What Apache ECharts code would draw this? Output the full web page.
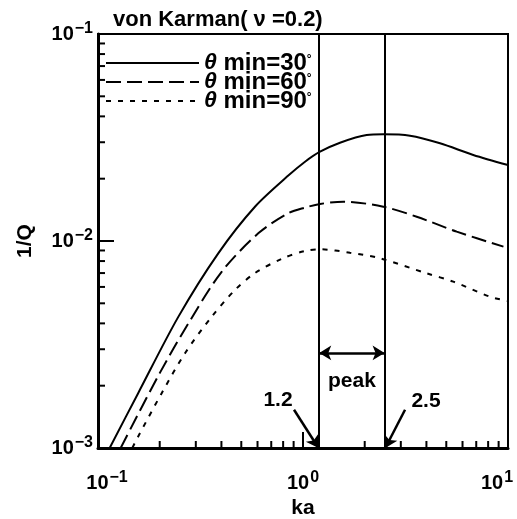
<!DOCTYPE html>
<html lang="en">
<head>
<meta charset="utf-8">
<title>von Karman 1/Q</title>
<script src="https://cdn.jsdelivr.net/npm/echarts@6/dist/echarts.min.js"></script>
<style>
  html, body { margin: 0; padding: 0; background: #fff; }
  #main { width: 517px; height: 519px; }
</style>
</head>
<body>
<div id="main"></div>
<script type="text/javascript">
// curve data (ka, 1/Q)
const ka30 = [0.1140, 0.157, 0.2464, 0.386, 0.583, 0.848, 1.023, 1.211, 1.515, 2.045, 2.465, 3.327, 4.66, 6.77, 10];
const q30  = [0.00100, 0.00184, 0.0043, 0.00872, 0.01464, 0.0207, 0.02415, 0.02700, 0.02985, 0.03251, 0.03277, 0.03226, 0.02964, 0.02603, 0.02328];

const ka60 = [0.129, 0.200, 0.276, 0.401, 0.605, 0.848, 1.023, 1.211, 1.573, 2.465, 3.586, 5.62, 9.5];
const q60  = [0.00100, 0.00230, 0.0040, 0.0071, 0.01089, 0.01362, 0.0145, 0.0151, 0.01549, 0.01465, 0.0131, 0.0111, 0.00939];

const ka90 = [0.147, 0.1573, 0.2045, 0.2657, 0.3586, 0.4659, 0.583, 0.787, 1.023, 1.211, 1.695, 2.375, 4.01, 5.41, 8.17, 10];
const q90  = [0.00100, 0.00114, 0.00184, 0.00287, 0.00431, 0.0058, 0.0070, 0.0082, 0.00895, 0.00912, 0.00878, 0.00825, 0.00698, 0.00636, 0.00538, 0.00513];

const seriesNames = ['30', '60', '90'];   // theta min values
const peakBounds = [1.2, 2.5];            // vertical lines
const peakArrowY = 0.00288;
const arrow12 = [[0.904, 0.00153], [1.19, 0.00100]];
const arrow25 = [[3.146, 0.00153], [2.52, 0.00100]];
const label12 = [0.755, 0.00171];
const label25 = [3.98, 0.00169];

// axis labels (exponents)
const xTickExps = ['−1', '0', '1'];
const yTickExps = ['−3', '−2', '−1'];
const xMinorTicks = [0.2, 0.3, 0.4, 0.5, 0.6, 0.7, 0.8, 0.9, 2, 3, 4, 5, 6, 7, 8, 9];
const yMinorTicks = [0.002, 0.003, 0.004, 0.005, 0.006, 0.007, 0.008, 0.009, 0.02, 0.03, 0.04, 0.05, 0.06, 0.07, 0.08, 0.09];

const FONT = 'Liberation Sans';

function pairs(xs, ys) {
    return xs.map((x, i) => [x, ys[i]]);
}

let tickData = [];
xMinorTicks.forEach((v) => { tickData.push([v, 0.001, 0]); });
yMinorTicks.forEach((v) => { tickData.push([0.1, v, 1]); });

let chart = echarts.init(document.getElementById('main'));

let expRich = {
    b: { fontFamily: FONT, fontWeight: 'bold', fontSize: 20, color: '#000' },
    s: { fontFamily: FONT, fontWeight: 'bold', fontSize: 16, color: '#000', verticalAlign: 'top', padding: [0, 0, 10, 1] },
    padL: { width: 18 },
    padR: { width: 22 }
};

let labelFont = { fontFamily: FONT, fontWeight: 'bold', fontSize: 21, color: '#000' };
let arrowLine = { color: '#000', width: 2.5, type: 'solid' };

let option = {
    backgroundColor: '#fff',
    animation: false,
    title: {
        text: 'von Karman( ν =0.2)',
        left: 108,
        top: 4,
        textStyle: { fontFamily: FONT, fontWeight: 'bold', fontSize: 22, color: '#000' }
    },
    legend: {
        data: seriesNames,
        orient: 'vertical',
        left: 100,
        top: 46,
        itemWidth: 93,
        itemHeight: 14,
        itemGap: -5,
        itemStyle: { opacity: 0 },
        formatter: (name) => '{i|θ} min={n|' + name + '}{d|°}',
        textStyle: {
            fontFamily: FONT, fontWeight: 'bold', fontSize: 24, color: '#000', lineHeight: 18,
            rich: {
                i: { fontFamily: FONT, fontStyle: 'italic', fontWeight: 'bold', fontSize: 23, color: '#000', lineHeight: 18 },
                n: { fontFamily: FONT, fontWeight: 'bold', fontSize: 24, color: '#000', lineHeight: 18 },
                d: { fontFamily: FONT, fontSize: 12, color: '#000', verticalAlign: 'top', lineHeight: 18 }
            }
        }
    },
    grid: {
        left: 98, top: 34, right: 9, bottom: 71,
        outerBoundsMode: 'none',
        show: true, borderColor: '#000', borderWidth: 2
    },
    xAxis: {
        type: 'log',
        logBase: 10,
        min: 0.1,
        max: 10,
        name: 'ka',
        nameLocation: 'middle',
        nameGap: 50,
        nameTextStyle: labelFont,
        axisLine: { lineStyle: { color: '#000', width: 3 } },
        axisTick: { inside: true, length: 16, lineStyle: { color: '#000', width: 2 } },
        splitLine: { show: false },
        axisLabel: {
            margin: 22,
            formatter: (v, i) => {
                let txt = '{b|10}{s|' + xTickExps[i] + '}';
                if (i === 0) txt = '{padL|}' + txt;
                if (i === xTickExps.length - 1) txt = txt + '{padR|}';
                return txt;
            },
            rich: expRich
        }
    },
    yAxis: {
        type: 'log',
        logBase: 10,
        min: 0.001,
        max: 0.1,
        name: '1/Q',
        nameLocation: 'middle',
        nameGap: 62,
        nameRotate: 90,
        nameTextStyle: labelFont,
        axisLine: { lineStyle: { color: '#000', width: 3 } },
        axisTick: { inside: true, length: 16, lineStyle: { color: '#000', width: 2 } },
        splitLine: { show: false },
        axisLabel: {
            margin: 5,
            formatter: (v, i) => '{b|10}{s|' + yTickExps[i] + '}',
            rich: expRich
        }
    },
    series: [
        {
            name: seriesNames[0],
            type: 'line',
            data: pairs(ka30, q30),
            symbol: 'none',
            smooth: 0.3,
            itemStyle: { color: '#000' },
            lineStyle: { color: '#000', width: 2, type: 'solid' },
            markLine: {
                silent: true,
                symbol: 'none',
                animation: false,
                lineStyle: { color: '#000', width: 2, type: 'solid' },
                label: { show: false },
                data: [
                    { xAxis: peakBounds[0] },
                    { xAxis: peakBounds[1] },
                    [
                        { coord: [peakBounds[0], peakArrowY], symbol: 'arrow', symbolSize: [11, 12], lineStyle: arrowLine },
                        { coord: [peakBounds[1], peakArrowY], symbol: 'arrow', symbolSize: [11, 12],
                          label: Object.assign({ show: true, position: 'insideMiddleBottom', distance: 18, formatter: 'peak' }, labelFont) }
                    ],
                    [
                        { coord: arrow12[0], symbol: 'none', lineStyle: arrowLine },
                        { coord: arrow12[1], symbol: 'arrow', symbolSize: [11, 12] }
                    ],
                    [
                        { coord: arrow25[0], symbol: 'none', lineStyle: arrowLine },
                        { coord: arrow25[1], symbol: 'arrow', symbolSize: [11, 12] }
                    ]
                ]
            },
            markPoint: {
                silent: true,
                symbol: 'circle',
                symbolSize: 0,
                animation: false,
                label: Object.assign({ show: true, position: 'inside' }, labelFont),
                data: [
                    { coord: label12, label: { formatter: '1.2' } },
                    { coord: label25, label: { formatter: '2.5' } }
                ]
            }
        },
        {
            name: seriesNames[1],
            type: 'line',
            data: pairs(ka60, q60),
            symbol: 'none',
            smooth: 0.3,
            itemStyle: { color: '#000' },
            lineStyle: { color: '#000', width: 2, type: [15, 6] }
        },
        {
            name: seriesNames[2],
            type: 'line',
            data: pairs(ka90, q90),
            symbol: 'none',
            smooth: 0.3,
            itemStyle: { color: '#000' },
            lineStyle: { color: '#000', width: 2, type: [5, 7] }
        },
        {
            // minor log ticks, inside the axes
            type: 'custom',
            silent: true,
            clip: false,
            data: tickData,
            renderItem: (params, api) => {
                let p = api.coord([api.value(0), api.value(1)]);
                let end = api.value(2) === 0 ? [p[0], p[1] - 7] : [p[0] + 7, p[1]];
                return {
                    type: 'line',
                    shape: { x1: p[0], y1: p[1], x2: end[0], y2: end[1] },
                    style: { stroke: '#000', lineWidth: 2 }
                };
            }
        }
    ]
};

chart.setOption(option);
</script>
</body>
</html>
